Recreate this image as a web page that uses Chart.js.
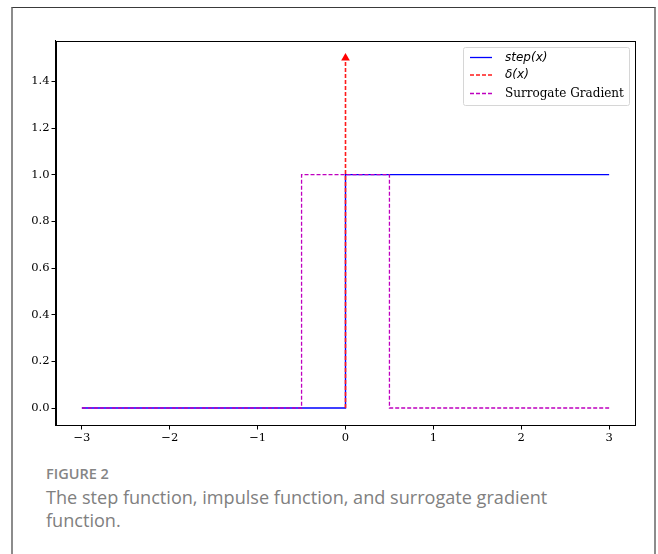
<!DOCTYPE html>
<html>
<head>
<meta charset="utf-8">
<script src="https://cdn.jsdelivr.net/npm/chart.js@4.4.1/dist/chart.umd.min.js"></script>
<style>
  html, body { margin: 0; padding: 0; background: #fff; width: 658px; height: 554px; overflow: hidden; }
  #frame { position: absolute; left: 11px; top: 7px; width: 645px; height: 560px; border-top: 1px solid #3a3a3a; border-left: 2px solid #8c8c8c; border-right: 2px solid #8c8c8c; box-sizing: border-box; }
  #wrap { position: absolute; left: 0; top: 0; width: 658px; height: 450px; }
  #cap1 { position: absolute; left: 46px; top: 464px; font-family: "Open Sans", sans-serif; font-weight: 600; font-size: 14.5px; color: #858585; }
  #cap2 { position: absolute; left: 46px; top: 486px; width: 520px; font-family: "Open Sans", sans-serif; font-size: 18.1px; line-height: 23px; color: #808080; }
</style>
</head>
<body>
<div id="frame"></div>
<div id="wrap"><canvas id="c" width="658" height="450"></canvas></div>
<div id="cap1">FIGURE 2</div>
<div id="cap2">The step function, impulse function, and surrogate gradient function.</div>
<script>
// ---- data ----
const seriesNames = ["step(x)", "δ(x)", "Surrogate Gradient"];
const stepX = [-3, 0, 0, 3];
const stepY = [0, 0, 1, 1];
const deltaX = [0, 0];
const deltaY = [0, 1.5];
const surrX = [-3, -0.5, -0.5, 0.5, 0.5, 3];
const surrY = [0, 0, 1, 1, 0, 0];
const xTicks = [-3, -2, -1, 0, 1, 2, 3];
const yTicks = [0.0, 0.2, 0.4, 0.6, 0.8, 1.0, 1.2, 1.4];
const xRange = [-3.3, 3.3];
const yRange = [-0.075, 1.575];

const toPts = (xs, ys) => xs.map((x, i) => ({ x: x, y: ys[i] }));

const PLOT_LEFT = 55.5, PLOT_RIGHT = 635.5, PLOT_TOP = 40.5, PLOT_BOTTOM = 425.5, CH = 450;

const framePlugin = {
  id: 'frameBox',
  afterDatasetsDraw(chart) {
    const a = chart.chartArea, ctx = chart.ctx;
    ctx.save();
    ctx.strokeStyle = '#000';
    ctx.lineWidth = 1;
    ctx.strokeRect(Math.round(a.left) + 0.5, Math.round(a.top) + 0.5, Math.round(a.right - a.left) - 1, Math.round(a.bottom - a.top) - 1);
    ctx.restore();
  }
};

const legendPlugin = {
  id: 'mplLegend',
  afterDraw(chart) {
    const ctx = chart.ctx;
    const bx = 463.5, by = 47.5, bw = 166, bh = 58;
    ctx.save();
    ctx.fillStyle = 'rgba(255,255,255,0.85)';
    ctx.strokeStyle = '#d6d6d6';
    ctx.lineWidth = 1;
    ctx.beginPath();
    ctx.roundRect(bx, by, bw, bh, 2);
    ctx.fill();
    ctx.stroke();
    const ds = chart.data.datasets;
    const fonts = ['italic 12px "DejaVu Sans"', 'italic 12px "DejaVu Sans"', '12px "DejaVu Serif"'];
    const rows = [57, 74.5, 93];
    ds.forEach((d, i) => {
      const y = rows[i];
      ctx.strokeStyle = d.borderColor;
      ctx.lineWidth = 1.3;
      ctx.setLineDash(d.borderDash || []);
      ctx.beginPath();
      ctx.moveTo(470, y + 0.5);
      ctx.lineTo(492, y + 0.5);
      ctx.stroke();
      ctx.setLineDash([]);
      ctx.fillStyle = '#000';
      ctx.font = fonts[i];
      ctx.textBaseline = 'middle';
      ctx.fillText(d.label, 505, y + 0.5);
    });
    ctx.restore();
  }
};

const tickFont = { family: '"DejaVu Serif"', size: 11.5 };

new Chart(document.getElementById('c'), {
  type: 'scatter',
  data: {
    datasets: [
      { label: seriesNames[0], data: toPts(stepX, stepY), showLine: true, borderColor: '#0000ff', borderWidth: 1.4, pointRadius: 0, order: 2 },
      { label: seriesNames[1], data: toPts(deltaX, deltaY), showLine: true, borderColor: '#ff1a1a', borderWidth: 1.6, borderDash: [4, 2],
        pointRadius: [0, 5], pointStyle: 'triangle', pointBackgroundColor: '#ff0000', pointBorderColor: '#ff0000', pointBorderWidth: 0, order: 1 },
      { label: seriesNames[2], data: toPts(surrX, surrY), showLine: true, borderColor: '#bf00bf', borderWidth: 1.3, borderDash: [4, 2], pointRadius: 0, order: 0 }
    ]
  },
  options: {
    responsive: false,
    animation: false,
    events: [],
    layout: { padding: { left: 0, top: PLOT_TOP, right: 658 - PLOT_RIGHT, bottom: 0 } },
    plugins: { legend: { display: false }, tooltip: { enabled: false } },
    scales: {
      x: {
        type: 'linear', min: xRange[0], max: xRange[1],
        afterBuildTicks: s => { s.ticks = xTicks.map(v => ({ value: v })); },
        afterFit: s => { s.height = CH - PLOT_BOTTOM; },
        ticks: { font: tickFont, color: '#000', padding: 2, maxRotation: 0,
          callback: v => (v < 0 ? '\u2212' + Math.abs(v) : String(v)) },
        grid: { drawOnChartArea: false, drawTicks: true, tickLength: 4, color: '#000' },
        border: { display: true, color: '#000' }
      },
      y: {
        type: 'linear', min: yRange[0], max: yRange[1],
        afterBuildTicks: s => { s.ticks = yTicks.map(v => ({ value: v })); },
        afterFit: s => { s.width = PLOT_LEFT; },
        ticks: { font: tickFont, color: '#000', padding: 2,
          callback: v => v.toFixed(1) },
        grid: { drawOnChartArea: false, drawTicks: true, tickLength: 4, color: '#000' },
        border: { display: true, color: '#000' }
      }
    }
  },
  plugins: [framePlugin, legendPlugin]
});
</script>
</body>
</html>
